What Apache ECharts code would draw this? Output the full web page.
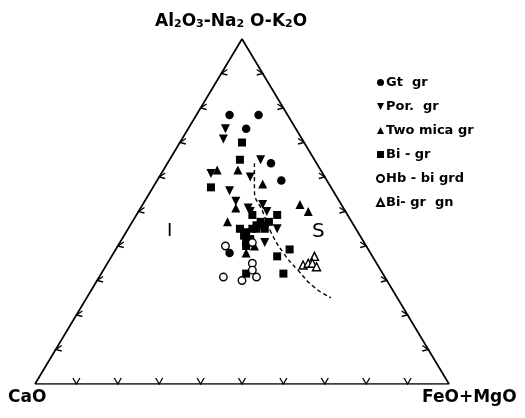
<!DOCTYPE html>
<html><head><meta charset="utf-8">
<script src="https://cdn.jsdelivr.net/npm/echarts@6/dist/echarts.min.js"></script>
<style>html,body{margin:0;padding:0;background:#fff}#c{width:525px;height:418px}</style>
</head><body><div id="c"></div>
<script>
// Ternary ACF compositions as [A, F] in percent:
// A = Al2O3-Na2O-K2O, F = FeO+MgO, CaO = 100 - A - F
const gtGr = [[78,8],[78,15],[74,14],[64,25],[59,30],[38,28]];
const porGr = [[74,9],[71,10],[65,22],[61,12],[60,22],[56,19],[53,22],[51,26],[50,27],[52,29],[50,31],[45,36],[41,35]];
const twoMicaGr = [[62,13],[62,18],[58,26],[52,38],[50,41],[47,23],[51,23],[38,32],[42,30],[40,33]];
const biGr = [[70,15],[65,17],[57,14],[49,28],[49,34],[45,27],[44,29],[45,30],[45,31],[46,32],[47,33],[43,29],[40,31],[39,42],[37,40],[32,44],[32,35],[42,31],[46,30.5],[45,33],[47,31],[41,30.5]];
const hbBiGrd = [[40,26],[41,32],[35,35],[33,36],[31,38],[31,30],[30,35]];
const biGrGn = [[34.5,47.5],[35,48.5],[37,49],[35,49.5],[34,51]];
const divideLine = [[64,21],[56,25],[50,30],[44,35],[38,41],[33,47],[28,53.5],[25,59]];
const corners = [[0,0],[0,100],[100,0],[0,0]];
const tickSteps = [10,20,30,40,50,60,70,80,90];
const seriesNames = ['Gt  gr','Por.  gr','Two mica gr','Bi - gr','Hb - bi grd','Bi- gr  gn'];

function toXY(p){ return [(p[1] + p[0]/2)/100, p[0]/100]; }

const tickData = [];
tickSteps.forEach(k => {
  const b = toXY([0,k]); tickData.push([b[0], b[1], 0]);
  const l = toXY([k,0]); tickData.push([l[0], l[1], 1]);
  const r = toXY([k,100-k]); tickData.push([r[0], r[1], 2]);
});
const chevrons = [
  [[-3.5,-6],[0,0],[3.5,-6]],
  [[6,-4],[0,0],[6,1.5]],
  [[-6,-4],[0,0],[-6,1.5]]
];

const FONT = 'DejaVu Sans';
const downTri = 'path://M0,0 L10,0 L5,10 Z';

function sc(name, data, symbol, size, filled){
  return {
    name, type:'scatter', data: data.map(toXY), symbol, symbolSize: size,
    itemStyle: filled ? {color:'#000', opacity:1} : {color:'#fff', borderColor:'#000', borderWidth:1.4, opacity:1},
    z: filled ? 3 : 4
  };
}

const chart = echarts.init(document.getElementById('c'), null, {renderer:'canvas'});
chart.setOption({
  animation:false,
  backgroundColor:'#fff',
  grid:{left:35, right:76, top:39, bottom:34},
  xAxis:{type:'value', min:0, max:1, show:false},
  yAxis:{type:'value', min:0, max:1, show:false},
  legend:{
    orient:'vertical', left:371, top:70, itemWidth:7, itemHeight:7, itemGap:9,
    data: seriesNames,
    textStyle:{fontFamily:FONT, fontWeight:'bold', fontSize:13, color:'#000', lineHeight:15, padding:[0,0,0,-3]},
    selectedMode:false
  },
  title:{
    text:'{n|Al}{s|2}{n|O}{s|3}{n|-Na}{s|2}{n| O-K}{s|2}{n|O}',
    left:150, top:6,
    textStyle:{rich:{
      n:{fontFamily:FONT, fontWeight:'bold', fontSize:17, color:'#000', verticalAlign:'bottom'},
      s:{fontFamily:FONT, fontWeight:'bold', fontSize:11, color:'#000', padding:[8,0,0,0]}
    }}
  },
  graphic:[
    {type:'text', left:8, top:389, style:{text:'CaO', font:'bold 17px "DejaVu Sans"', fill:'#000'}},
    {type:'text', left:422, top:389, style:{text:'FeO+MgO', font:'bold 17px "DejaVu Sans"', fill:'#000'}},
    {type:'text', left:167, top:222, style:{text:'I', font:'18px "DejaVu Sans"', fill:'#000'}},
    {type:'text', left:312, top:222, style:{text:'S', font:'20px "DejaVu Sans"', fill:'#000'}}
  ],
  series:[
    {type:'line', data:corners.map(toXY), symbol:'none', lineStyle:{color:'#000', width:1.7}, silent:true, z:1},
    {type:'line', data:divideLine.map(toXY), symbol:'none', smooth:true, lineStyle:{color:'#000', width:1.4, type:[4,3]}, silent:true, z:2},
    {type:'custom', data:tickData, silent:true, z:2,
      renderItem:(params, api)=>{
        const p = api.coord([api.value(0), api.value(1)]);
        const c = chevrons[api.value(2)];
        return {type:'polyline', shape:{points:c.map(d=>[p[0]+d[0], p[1]+d[1]])},
          style:{stroke:'#000', lineWidth:1.3, fill:null}};
      }},
    sc(seriesNames[0], gtGr, 'circle', 8.5, true),
    sc(seriesNames[1], porGr, downTri, 9, true),
    sc(seriesNames[2], twoMicaGr, 'triangle', 9, true),
    sc(seriesNames[3], biGr, 'rect', 8, true),
    sc(seriesNames[4], hbBiGrd, 'circle', 7.5, false),
    sc(seriesNames[5], biGrGn, 'triangle', 8, false)
  ]
});
</script></body></html>
